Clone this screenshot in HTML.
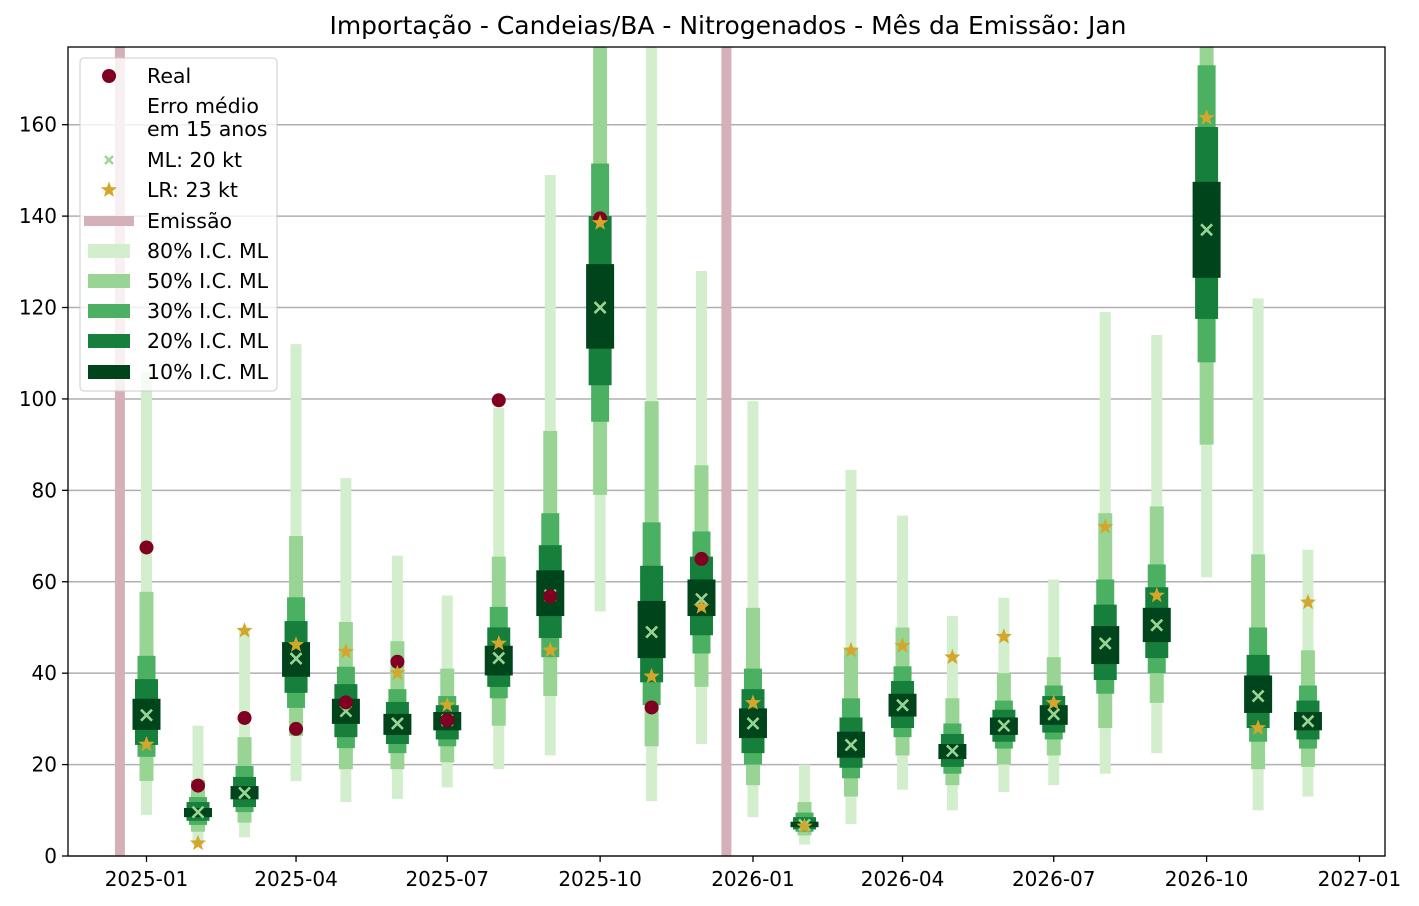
<!DOCTYPE html>
<html><head><meta charset="utf-8"><style>
body{margin:0;background:#fff;}
svg{display:block;font-family:"DejaVu Sans","Liberation Sans",sans-serif;}
</style></head><body>
<svg id="chart" width="1419" height="906" viewBox="0 0 1419 906" xmlns="http://www.w3.org/2000/svg">
<text x="728" y="34" font-size="24.5" text-anchor="middle" fill="#000" textLength="797" lengthAdjust="spacingAndGlyphs">Importação - Candeias/BA - Nitrogenados - Mês da Emissão: Jan</text>
<g id="grid"></g><g id="emis"></g><g id="bars"></g><g id="marks"></g><g id="axes"></g><g id="legend"></g>
</svg>
<script>
const months=["2025-01","2025-02","2025-03","2025-04","2025-05","2025-06","2025-07","2025-08","2025-09","2025-10","2025-11","2025-12","2026-01","2026-02","2026-03","2026-04","2026-05","2026-06","2026-07","2026-08","2026-09","2026-10","2026-11","2026-12"];
const ci80hi=[106,28.5,49.5,112,82.7,65.7,57,98,149,180,180,128,99.5,20,84.5,74.5,52.5,56.5,60.5,119,114,180,122,67];
const ci80lo=[9,2.4,4.1,16.4,11.8,12.5,15,19,22,53.5,12,24.5,8.5,2.5,7,14.5,10,14,15.5,18,22.5,61,10,13];
const ci50hi=[57.8,16.6,26,70,51.2,47,41,65.5,93,180,99.5,85.5,54.3,11.8,45.5,50,34.5,40,43.5,75,76.5,180,66,45];
const ci50lo=[16.4,5.3,7.3,26.3,19,19,20.5,28.5,35,79,24,37,15.5,4.5,13,22,15.5,20,22,28,33.5,90,19,19.5];
const ci30hi=[43.8,12.9,19.7,56.6,41.4,36.5,35,54.5,75,151.5,73,71,41,9.5,34.5,41.5,29,34,37.3,60.5,63.8,173,50,37.3];
const ci30lo=[21.7,6.8,9.6,32.4,23.6,22.5,24,34.5,43.5,95,33,44.3,20,5.3,17,26,18,23.5,25.5,35.5,40,108,25,23.5];
const ci20hi=[38.7,11.8,17.3,51.4,37.6,33.7,33,50,68,140,63.5,65.5,36.5,8.5,30.3,38.3,26.7,32,35,55,58.8,159.5,44,34];
const ci20lo=[24.3,7.7,10.7,35.7,26,24.5,25.5,37,47.7,103,38,48.3,22.5,5.8,19.3,28,19.5,25,27,38.5,43.3,117.5,28,25.5];
const ci10hi=[34.4,10.5,15.3,46.8,34.4,31.1,31.5,46,62.5,129.5,55.8,60.5,32.3,7.5,27.2,35.5,24.5,30.3,33,50.3,54.3,147.5,39.5,31.5];
const ci10lo=[27.6,8.5,12.4,39.2,28.9,26.5,27.5,39.5,52.5,111,43.3,52.5,25.8,6.3,21.5,30.5,21.2,26.5,28.7,42,46.8,126.5,31.3,27.5];
const mlMedian=[30.8,9.6,13.8,43.2,31.7,29,29.7,43.3,57,120,49,56.2,29,6.8,24.3,33,23,28.5,31,46.5,50.5,137,35,29.5];
const realVals=[67.5,15.4,30.2,27.8,33.6,42.5,29.7,99.7,56.8,139.5,32.5,65,null,null,null,null,null,null,null,null,null,null,null,null];
const lrVals=[24.4,2.8,49.3,46.2,44.7,40,33,46.5,45,138.5,39.3,54.5,33.5,6.5,45,46,43.5,48,33.5,72,57,161.5,28,55.5];
const emissionDates=["2024-12-16","2025-12-16"];
const yTicks=[0,20,40,60,80,100,120,140,160];
const xTicks=["2025-01","2025-04","2025-07","2025-10","2026-01","2026-04","2026-07","2026-10","2027-01"];

const NS="http://www.w3.org/2000/svg";
const L=68,R=1385,T=47,B=856,YMAX=177;
const t0=Date.UTC(2025,0,1);
function dms(s){const p=s.split("-").map(Number);return Date.UTC(p[0],p[1]-1,p[2]||1);}
function X(s){return 146.5+(dms(s)-t0)/86400000*1.6616;}
function Y(v){return B-(Math.min(v,YMAX+5))*(B-T)/YMAX;}
function el(tag,attrs,parent){const e=document.createElementNS(NS,tag);for(const k in attrs)e.setAttribute(k,attrs[k]);document.getElementById(parent).appendChild(e);return e;}

yTicks.forEach(v=>{const g=el("line",{x1:L,x2:R,y1:Y(v),y2:Y(v),stroke:"#b0b0b0","stroke-width":1.5},"grid");

});
emissionDates.forEach(d=>{const e=el("rect",{x:X(d)-5,y:T,width:10,height:B-T,fill:"#d6b0b9"},"emis");

});
const bands=[[ci80lo,ci80hi,11,"#d3eecd","ci80"],[ci50lo,ci50hi,14,"#98d594","ci50"],[ci30lo,ci30hi,18,"#4bb062","ci30"],[ci20lo,ci20hi,23,"#157f3b","ci20"],[ci10lo,ci10hi,28,"#00441b","ci10"]];
months.forEach((m,i)=>{const cx=X(m);
 bands.forEach(b=>{const y1=Y(Math.min(b[1][i],YMAX+5)),y2=Y(b[0][i]);
  const r=el("rect",{x:cx-b[2]/2,y:Math.max(y1,T),width:b[2],height:y2-Math.max(y1,T),fill:b[3]},"bars");
  
  });
});
function star(cx,cy,r){let p=[];for(let k=0;k<10;k++){const a=-Math.PI/2+k*Math.PI/5,rr=k%2?r*0.42:r;p.push((cx+rr*Math.cos(a)).toFixed(1)+","+(cy+rr*Math.sin(a)).toFixed(1));}return p.join(" ");}
months.forEach((m,i)=>{const cx=X(m);
 const my=Y(mlMedian[i]),s=5.5;
 const x1=el("path",{d:`M${cx-s},${my-s}L${cx+s},${my+s}M${cx-s},${my+s}L${cx+s},${my-s}`,stroke:"#98d594","stroke-width":2.6,fill:"none"},"marks");
 
 
 if(realVals[i]!==null){const c=el("circle",{cx:cx,cy:Y(realVals[i]),r:7,fill:"#7f0020"},"marks");
  
  }
 const st=el("polygon",{points:star(cx,Y(lrVals[i]),8.5),fill:"#d4a72c"},"marks");
 
 
});
const fr=el("rect",{x:L,y:T,width:R-L,height:B-T,fill:"none",stroke:"#000","stroke-width":1.3},"axes");


yTicks.forEach(v=>{const tk=el("line",{x1:L-6,x2:L,y1:Y(v),y2:Y(v),stroke:"#000","stroke-width":1.3},"axes");
 
 
 const t=el("text",{x:L-11,y:Y(v)+7,"font-size":20,"text-anchor":"end"},"axes");t.textContent=v;
 
 });
xTicks.forEach(s=>{const x=X(s);const tk=el("line",{x1:x,x2:x,y1:B,y2:B+6,stroke:"#000","stroke-width":1.3},"axes");
 
 
 const t=el("text",{x:x,y:B+30,"font-size":20,"text-anchor":"middle"},"axes");t.textContent=s;
 
 });
const lb=el("rect",{x:80,y:58,width:197,height:333,rx:4,fill:"#fff","fill-opacity":0.8,stroke:"#ccc"},"legend");


function ltext(y,s){const t=el("text",{x:147,y:y+7,"font-size":20.5},"legend");t.textContent=s;
 
 }
const c0=el("circle",{cx:109,cy:76,r:7,fill:"#7f0020"},"legend");


ltext(76,"Real");ltext(106,"Erro médio");ltext(129,"em 15 anos");
const lx=el("path",{d:"M105,156L113,164M105,164L113,156",stroke:"#98d594","stroke-width":2.4},"legend");


ltext(160,"ML: 20 kt");
const ls=el("polygon",{points:star(109,190,8.5),fill:"#d4a72c"},"legend");


ltext(190,"LR: 23 kt");
const le=el("rect",{x:84,y:216,width:50,height:10,fill:"#d6b0b9"},"legend");


ltext(221,"Emissão");
[["#d3eecd","80% I.C. ML",251],["#98d594","50% I.C. ML",281],["#4bb062","30% I.C. ML",311],["#157f3b","20% I.C. ML",341],["#00441b","10% I.C. ML",372]].forEach(a=>{
 const sw=el("rect",{x:88,y:a[2]-7,width:42,height:14,fill:a[0]},"legend");
 
 
 ltext(a[2],a[1]);});
</script>
</body></html>
